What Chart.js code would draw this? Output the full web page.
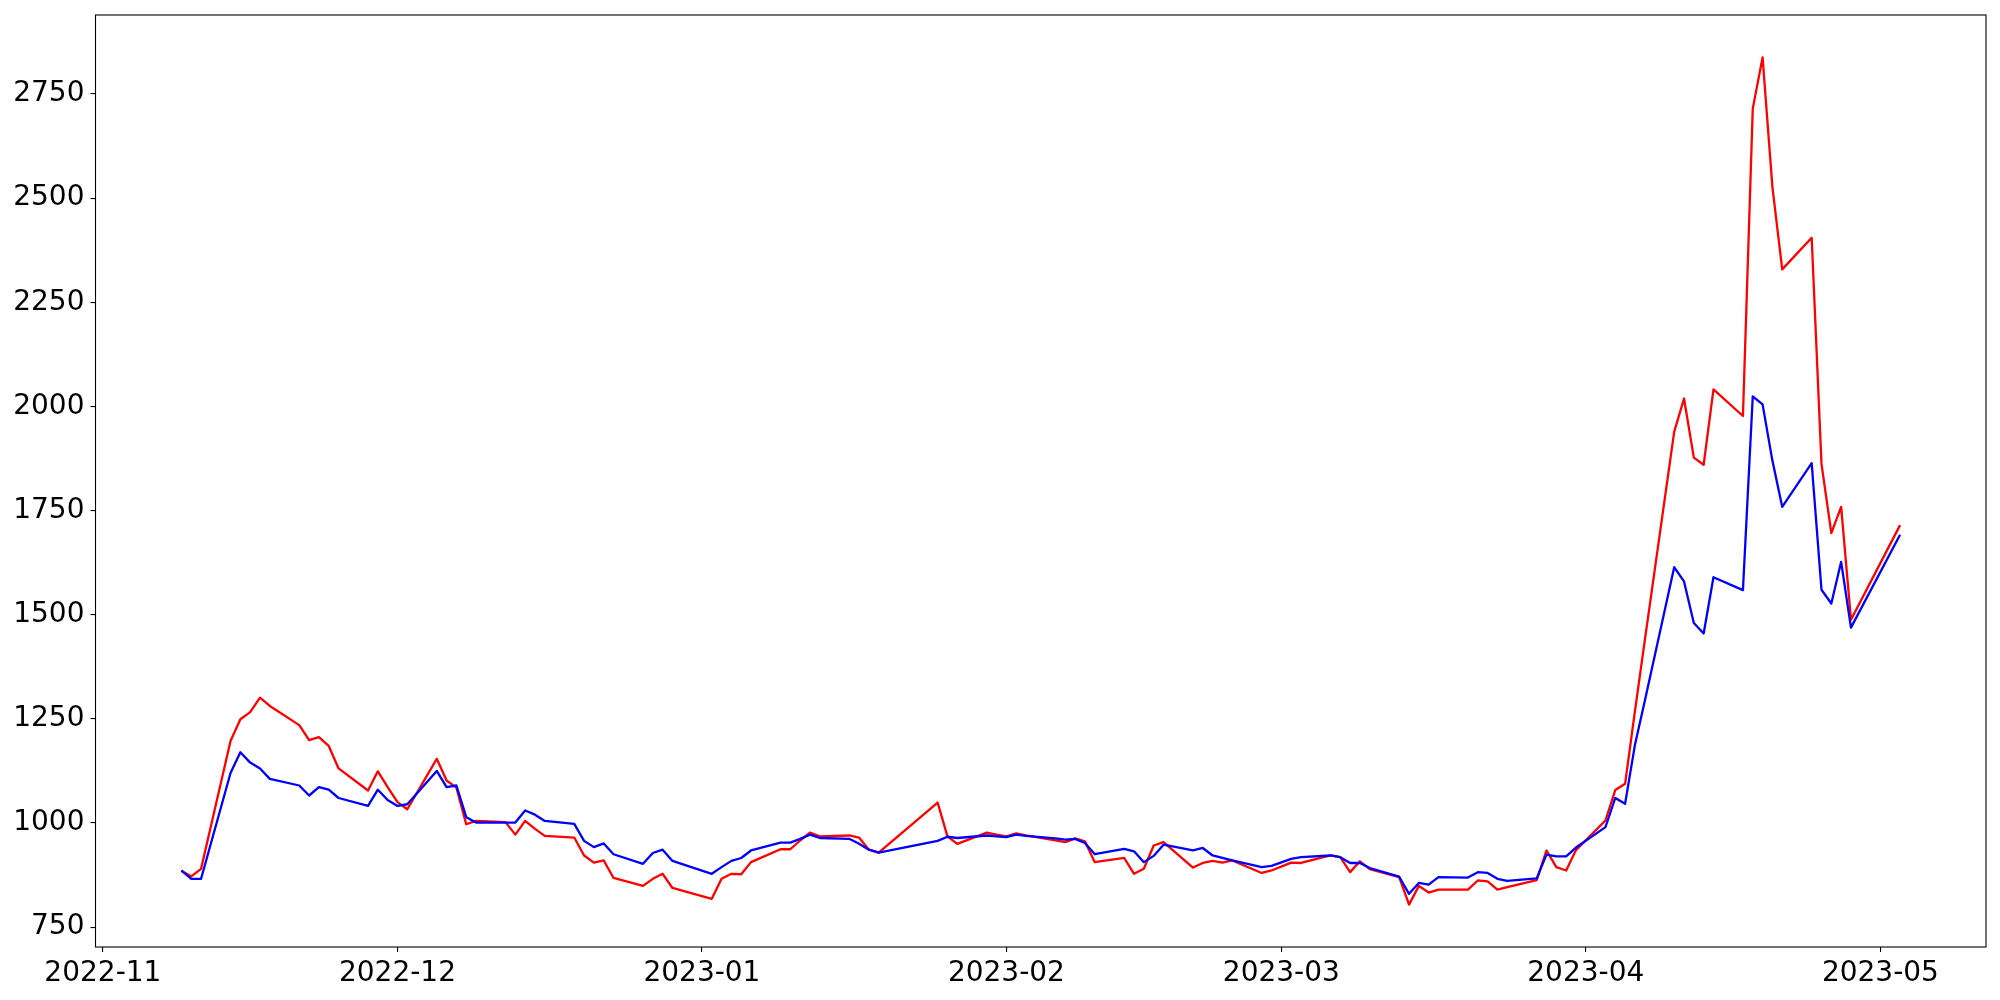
<!DOCTYPE html>
<html>
<head>
<meta charset="utf-8">
<title>Line chart</title>
<script src="https://cdn.jsdelivr.net/npm/chart.js@4.4.0/dist/chart.umd.min.js"></script>
<style>
  html, body { margin: 0; padding: 0; background: #ffffff; }
  #wrap { width: 2000px; height: 1000px; }
</style>
</head>
<body>
<div id="wrap"><canvas id="linechart"></canvas></div>
<script>
var dates = [
  "2022-11-09", "2022-11-10", "2022-11-11", "2022-11-14", "2022-11-15", "2022-11-16", "2022-11-17", "2022-11-18",
  "2022-11-21", "2022-11-22", "2022-11-23", "2022-11-24", "2022-11-25", "2022-11-28", "2022-11-29", "2022-11-30",
  "2022-12-01", "2022-12-02", "2022-12-05", "2022-12-06", "2022-12-07", "2022-12-08", "2022-12-09", "2022-12-12",
  "2022-12-13", "2022-12-14", "2022-12-15", "2022-12-16", "2022-12-19", "2022-12-20", "2022-12-21", "2022-12-22",
  "2022-12-23", "2022-12-26", "2022-12-27", "2022-12-28", "2022-12-29", "2023-01-02", "2023-01-03", "2023-01-04",
  "2023-01-05", "2023-01-06", "2023-01-09", "2023-01-10", "2023-01-11", "2023-01-12", "2023-01-13", "2023-01-16",
  "2023-01-17", "2023-01-18", "2023-01-19", "2023-01-25", "2023-01-26", "2023-01-27", "2023-01-30", "2023-01-31",
  "2023-02-01", "2023-02-02", "2023-02-03", "2023-02-06", "2023-02-07", "2023-02-08", "2023-02-09", "2023-02-10",
  "2023-02-13", "2023-02-14", "2023-02-15", "2023-02-16", "2023-02-17", "2023-02-20", "2023-02-21", "2023-02-22",
  "2023-02-23", "2023-02-24", "2023-02-27", "2023-02-28", "2023-03-02", "2023-03-03", "2023-03-06", "2023-03-07",
  "2023-03-08", "2023-03-09", "2023-03-10", "2023-03-13", "2023-03-14", "2023-03-15", "2023-03-16", "2023-03-17",
  "2023-03-20", "2023-03-21", "2023-03-22", "2023-03-23", "2023-03-24", "2023-03-27", "2023-03-28", "2023-03-29",
  "2023-03-30", "2023-03-31", "2023-04-03", "2023-04-04", "2023-04-05", "2023-04-06", "2023-04-07", "2023-04-10",
  "2023-04-11", "2023-04-12", "2023-04-13", "2023-04-14", "2023-04-17", "2023-04-18", "2023-04-19", "2023-04-20",
  "2023-04-21", "2023-04-24", "2023-04-25", "2023-04-26", "2023-04-27", "2023-04-28", "2023-05-03"
];

var redValues = [
  885, 872, 890, 1197, 1249, 1266, 1301, 1281,
  1235, 1199, 1206, 1185, 1131, 1078, 1124, 1086,
  1050, 1033, 1154, 1102, 1085, 997, 1005, 1002,
  972, 1005, 986, 969, 965, 922, 905, 910,
  868, 849, 866, 878, 844, 818, 866, 878,
  877, 906, 937, 937, 958, 977, 968, 970,
  965, 936, 929, 1049, 968, 950, 977, 972,
  968, 975, 970, 958, 954, 963, 956, 906,
  916, 878, 890, 946, 954, 893, 904, 909,
  905, 910, 880, 886, 905, 904, 922, 918,
  882, 908, 889, 870, 804, 849, 833, 840,
  840, 862, 860, 840, 846, 863, 934, 894,
  886, 935, 1006, 1079, 1094, 1268, 1437, 1939,
  2019, 1877, 1860, 2041, 1977, 2715, 2838, 2527,
  2329, 2405, 1862, 1696, 1759, 1488, 1715
];

var blueValues = [
  886, 866, 866, 1120, 1170, 1145, 1131, 1106,
  1090, 1066, 1086, 1080, 1060, 1041, 1080, 1055,
  1041, 1045, 1125, 1086, 1090, 1014, 1001, 1001,
  1001, 1030, 1020, 1005, 998, 957, 942, 951,
  925, 902, 928, 936, 909, 878, 894, 909,
  916, 934, 953, 953, 962, 972, 964, 962,
  950, 936, 929, 957, 967, 964, 970, 968,
  966, 972, 969, 963, 960, 962, 952, 925,
  938, 932, 906, 921, 948, 934, 940, 922,
  916, 910, 894, 897, 914, 918, 922, 918,
  904, 904, 892, 871, 830, 856, 852, 870,
  869, 882, 880, 866, 861, 867, 924, 920,
  920, 941, 990, 1060, 1046, 1187, 1292, 1614,
  1580, 1480, 1455, 1590, 1559, 2024, 2005, 1870,
  1759, 1864, 1560, 1527, 1627, 1469, 1692
];

var monthTicks = ["2022-11", "2022-12", "2023-01", "2023-02", "2023-03", "2023-04", "2023-05"];
var yTicks = [750, 1000, 1250, 1500, 1750, 2000, 2250, 2500, 2750];

function toTime(s) {
  return Date.parse(s.length == 7 ? s + "-01T00:00:00Z" : s + "T00:00:00Z");
}

var times = dates.map(toTime);

// matplotlib style 5% margins around the data
var xSpan = times[times.length - 1] - times[0];
var xMin = times[0] - xSpan * 0.05;
var xMax = times[times.length - 1] + xSpan * 0.05;
var allValues = redValues.concat(blueValues);
var yLo = Math.min.apply(null, allValues);
var yHi = Math.max.apply(null, allValues);
var yMin = yLo - (yHi - yLo) * 0.05;
var yMax = yHi + (yHi - yLo) * 0.05;

var tickFont = { family: "'DejaVu Sans'", size: 28 };

// black box round the plot area
var frame = {
  id: "frame",
  afterDraw: function(chart) {
    var a = chart.chartArea;
    var ctx = chart.ctx;
    ctx.save();
    ctx.strokeStyle = "#000000";
    ctx.lineWidth = 1.1;
    ctx.strokeRect(a.left, a.top, a.right - a.left, a.bottom - a.top);
    ctx.restore();
  }
};

new Chart("linechart", {
  type: "line",
  data: {
    datasets: [{
      data: times.map(function(t, i) { return { x: t, y: redValues[i] }; }),
      borderColor: "#ff0000",
      borderWidth: 2.3,
      borderJoinStyle: "round",
      pointRadius: 0,
      fill: false,
      tension: 0,
      order: 1
    }, {
      data: times.map(function(t, i) { return { x: t, y: blueValues[i] }; }),
      borderColor: "#0000ff",
      borderWidth: 2.3,
      borderJoinStyle: "round",
      pointRadius: 0,
      fill: false,
      tension: 0,
      order: 0
    }]
  },
  options: {
    responsive: true,
    maintainAspectRatio: false,
    animation: false,
    layout: { padding: { top: 15, right: 14, left: 0, bottom: 0 } },
    plugins: {
      legend: { display: false },
      tooltip: { enabled: false }
    },
    scales: {
      x: {
        type: "linear",
        min: xMin,
        max: xMax,
        border: { display: false },
        grid: { drawOnChartArea: false, drawTicks: true, tickLength: 5, color: "#000000", lineWidth: 1.1 },
        ticks: {
          color: "#000000",
          font: tickFont,
          padding: 5,
          maxRotation: 0,
          autoSkip: false,
          callback: function(v) { return new Date(v).toISOString().slice(0, 7); }
        },
        afterBuildTicks: function(scale) {
          scale.ticks = monthTicks.map(function(m) { return { value: toTime(m) }; });
        },
        afterFit: function(scale) {
          scale.height = 53;
          scale.paddingLeft = 0;
          scale.paddingRight = 0;
        }
      },
      y: {
        type: "linear",
        min: yMin,
        max: yMax,
        border: { display: false },
        grid: { drawOnChartArea: false, drawTicks: true, tickLength: 5, color: "#000000", lineWidth: 1.1 },
        ticks: {
          color: "#000000",
          font: tickFont,
          padding: 6,
          callback: function(v) { return String(v); }
        },
        afterBuildTicks: function(scale) {
          scale.ticks = yTicks.map(function(v) { return { value: v }; });
        },
        afterFit: function(scale) {
          scale.width = 95.5;
          scale.paddingTop = 0;
          scale.paddingBottom = 0;
        }
      }
    }
  },
  plugins: [frame]
});
</script>
</body>
</html>
